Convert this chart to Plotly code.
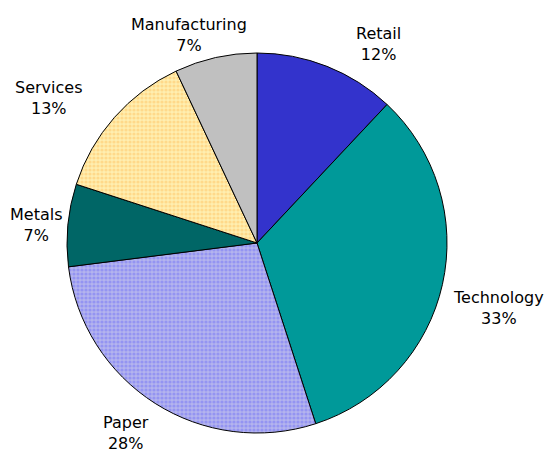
import math
import plotly.graph_objects as go

categories = ["Retail", "Technology", "Paper", "Metals", "Services", "Manufacturing"]
values = [12, 33, 28, 7, 13, 7]

colors = ["#3333CC", "#009999", "#B4B4EE", "#006666", "#FFEFB0", "#C0C0C0"]
pattern_shapes = ["", "", ".", "", ".", ""]
pattern_fg = ["#3333CC", "#009999", "#9494F2", "#006666", "#FFD98A", "#C0C0C0"]

W, H = 558, 456
# pie geometry in figure pixels (page body adds an 8px offset)
CX, CY, R = 249, 235, 190
dom_x = [(CX - R) / W, (CX + R) / W]
dom_y = [1 - (CY + R) / H, 1 - (CY - R) / H]

fig = go.Figure(go.Pie(
    labels=categories,
    values=values,
    sort=False,
    direction="clockwise",
    rotation=0,
    marker=dict(colors=colors, line=dict(color="black", width=1),
                pattern=dict(shape=pattern_shapes, fgcolor=pattern_fg, bgcolor=colors,
                             size=4, solidity=0.5)),
    textinfo="none",
    domain=dict(x=dom_x, y=dom_y),
    showlegend=False,
    hoverinfo="skip",
))

# outside labels, placed from each slice's mid-angle
total = sum(values)
cum = 0
for lab, v in zip(categories, values):
    mid = (cum + v / 2) / total * 2 * math.pi
    cum += v
    s, c = math.sin(mid), math.cos(mid)
    gap = 4 if abs(c) < 0.15 else 10
    px = CX + (R + gap) * s
    py = CY - (R + gap) * c
    xa = "left" if s > 0.25 else ("right" if s < -0.25 else "center")
    ya = "bottom" if c > 0.15 else ("top" if c < -0.15 else "middle")
    upper = c > 0.15
    fig.add_annotation(
        x=px / W, y=1 - py / H, xref="paper", yref="paper",
        text=f"{lab}<br>{round(v / total * 100)}%",
        showarrow=False, xanchor=xa, yanchor=ya, align="center", borderpad=0,
        xshift=(24 if s > 0 else -24) if upper else 0,
        yshift=-8 if upper else 0,
        font=dict(family="DejaVu Sans", size=16, color="black"),
    )

fig.update_layout(width=W, height=H, margin=dict(l=0, r=0, t=0, b=0),
                  paper_bgcolor="white", plot_bgcolor="white")
fig.write_html("out.html")
